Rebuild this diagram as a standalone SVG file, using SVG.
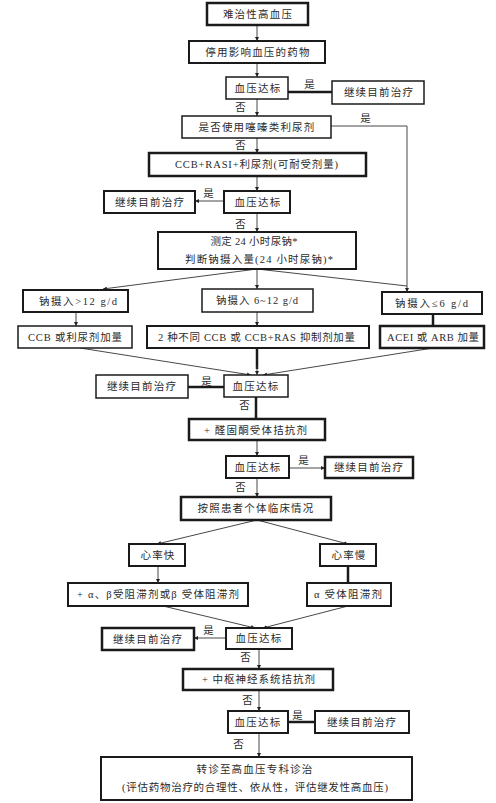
<svg xmlns="http://www.w3.org/2000/svg" width="496" height="803" viewBox="0 0 496 803">
<defs>
<marker id="ar" viewBox="0 0 6 6" refX="6" refY="3" markerWidth="4" markerHeight="4" orient="auto" markerUnits="userSpaceOnUse">
<path d="M0,0 L6,3 L0,6 z" fill="#222"/>
</marker>
<style>
.b{fill:#fff;stroke:#1a1a1a;stroke-width:1.5}
.t{stroke-width:2.5}
.m{stroke-width:2}
text{font-family:"Liberation Serif","Noto Sans CJK SC",serif;font-size:10.5px;fill:#2a2a2a;text-anchor:middle;letter-spacing:1.2px}
text.n{letter-spacing:0}
.c line,.c polyline{stroke:#333;stroke-width:0.9;fill:none}
.c .k{stroke:#1a1a1a;stroke-width:2.5}
.c .a{marker-end:url(#ar)}
</style>
</defs>
<rect width="496" height="803" fill="#fff"/>
<g class="c" id="connectors">
<line class="a" x1="257" y1="25" x2="257" y2="41"/>
<line class="a" x1="257" y1="63" x2="257" y2="77"/>
<line class="k" x1="288" y1="92" x2="332" y2="92"/>
<line class="a" x1="257" y1="99" x2="257" y2="116"/>
<polyline class="a" points="331,126 407,126 407,292"/>
<line class="a" x1="257" y1="138" x2="257" y2="153"/>
<line class="a" x1="257" y1="176" x2="257" y2="191"/>
<line class="a" x1="224" y1="201" x2="195" y2="201"/>
<line class="a" x1="257" y1="213" x2="257" y2="232"/>
<line class="a" x1="257" y1="269" x2="103" y2="289"/>
<line class="a" x1="257" y1="269" x2="257" y2="289"/>
<line x1="257" y1="269" x2="407" y2="286"/>
<line class="a" x1="76" y1="312" x2="76" y2="326"/>
<line class="a" x1="257" y1="312" x2="257" y2="326"/>
<line class="k" x1="433" y1="314" x2="433" y2="326"/>
<line class="a" x1="80" y1="348" x2="251" y2="375"/>
<line class="k" x1="257" y1="348" x2="257" y2="369"/>
<line class="a" x1="257" y1="366" x2="257" y2="375"/>
<line class="a" x1="433" y1="348" x2="263" y2="375"/>
<line class="k" x1="224" y1="387" x2="188" y2="387"/>
<line class="k" x1="256" y1="397" x2="256" y2="419"/>
<line class="a" x1="257" y1="440" x2="257" y2="456"/>
<line class="a" x1="289" y1="468" x2="325" y2="468"/>
<line class="a" x1="257" y1="478" x2="257" y2="497"/>
<line class="a" x1="257" y1="520" x2="157" y2="544"/>
<line class="a" x1="257" y1="520" x2="348" y2="544"/>
<line class="a" x1="158" y1="566" x2="158" y2="583"/>
<line class="k" x1="348" y1="566" x2="348" y2="583"/>
<line class="a" x1="163" y1="606" x2="255" y2="628"/>
<line class="a" x1="348" y1="606" x2="263" y2="628"/>
<line class="a" x1="226" y1="638" x2="194" y2="638"/>
<line class="a" x1="259" y1="649" x2="259" y2="669"/>
<line class="a" x1="259" y1="690" x2="259" y2="711"/>
<line class="k" x1="288" y1="722" x2="315" y2="722"/>
<line class="a" x1="259" y1="733" x2="259" y2="757"/>
</g>
<g id="labels">
<text x="310" y="88">是</text>
<text x="241" y="111">否</text>
<text x="366" y="122">是</text>
<text x="241" y="149">否</text>
<text x="209" y="197">是</text>
<text x="241" y="228">否</text>
<text x="207" y="385">是</text>
<text x="245" y="409">否</text>
<text x="304" y="464">是</text>
<text x="241" y="491">否</text>
<text x="209" y="634">是</text>
<text x="246" y="661">否</text>
<text x="248" y="704">否</text>
<text x="298" y="719">是</text>
<text x="239" y="748">否</text>
</g>
<g id="n1"><rect class="b t" x="207" y="3" width="101" height="22"/><text x="258" y="18">难治性高血压</text></g>
<g id="n2"><rect class="b m" x="189" y="41" width="136" height="22"/><text x="258" y="56">停用影响血压的药物</text></g>
<g id="n3"><rect class="b" x="226" y="77" width="62" height="22"/><text x="258" y="92">血压达标</text></g>
<g id="n4"><rect class="b" x="332" y="81" width="92" height="23"/><text x="379" y="96">继续目前治疗</text></g>
<g id="n5"><rect class="b" x="182" y="116" width="149" height="22"/><text x="257" y="131">是否使用噻嗪类利尿剂</text></g>
<g id="n6"><rect class="b t" x="149" y="153" width="217" height="23"/><text class="n" x="256.5" y="168" textLength="163" lengthAdjust="spacing">CCB+RASI+利尿剂(可耐受剂量)</text></g>
<g id="n7"><rect class="b m" x="224" y="191" width="66" height="22"/><text x="258" y="206">血压达标</text></g>
<g id="n8"><rect class="b m" x="104" y="191" width="91" height="22"/><text x="150" y="206">继续目前治疗</text></g>
<g id="n9"><rect class="b m" x="158" y="232" width="198" height="37"/><text class="n" x="254" y="245" textLength="87" lengthAdjust="spacing">测定 24 小时尿钠*</text><text class="n" x="259" y="263" textLength="148" lengthAdjust="spacing">判断钠摄入量(24 小时尿钠)*</text></g>
<g id="n10"><rect class="b m" x="23" y="290" width="105" height="22"/><text class="n" x="78" y="305" textLength="78" lengthAdjust="spacing">钠摄入&gt;12 g/d</text></g>
<g id="n11"><rect class="b" x="202" y="289" width="111" height="23"/><text class="n" x="257" y="304" textLength="82" lengthAdjust="spacing">钠摄入 6~12 g/d</text></g>
<g id="n12"><rect class="b m" x="382" y="292" width="100" height="22"/><text class="n" x="431.5" y="307" textLength="73" lengthAdjust="spacing">钠摄入≤6 g/d</text></g>
<g id="n13"><rect class="b" x="18" y="326" width="114" height="22"/><text class="n" x="75" y="341" textLength="94" lengthAdjust="spacing">CCB 或利尿剂加量</text></g>
<g id="n14"><rect class="b m" x="147" y="326" width="222" height="22"/><text class="n" x="256.5" y="341" textLength="197" lengthAdjust="spacing">2 种不同 CCB 或 CCB+RAS 抑制剂加量</text></g>
<g id="n15"><rect class="b t" x="380" y="326" width="104" height="22"/><text class="n" x="433" y="341" textLength="92" lengthAdjust="spacing">ACEI 或 ARB 加量</text></g>
<g id="n16"><rect class="b" x="224" y="375" width="64" height="22"/><text x="256" y="390">血压达标</text></g>
<g id="n17"><rect class="b" x="96" y="375" width="92" height="23"/><text x="142" y="390">继续目前治疗</text></g>
<g id="n18"><rect class="b t" x="189" y="419" width="136" height="21"/><text class="n" x="255.5" y="434" textLength="103" lengthAdjust="spacing">+ 醛固酮受体拮抗剂</text></g>
<g id="n19"><rect class="b m" x="226" y="456" width="63" height="22"/><text x="258" y="471">血压达标</text></g>
<g id="n20"><rect class="b t" x="325" y="457" width="88" height="21"/><text x="369" y="471">继续目前治疗</text></g>
<g id="n21"><rect class="b t" x="181" y="497" width="150" height="23"/><text x="256" y="512">按照患者个体临床情况</text></g>
<g id="n22"><rect class="b m" x="129" y="544" width="56" height="22"/><text x="158" y="559">心率快</text></g>
<g id="n23"><rect class="b m" x="320" y="544" width="56" height="22"/><text x="349" y="559">心率慢</text></g>
<g id="n24"><rect class="b m" x="68" y="583" width="180" height="23"/><text class="n" x="158" y="598" textLength="162" lengthAdjust="spacing">+ α、β受阻滞剂或β 受体阻滞剂</text></g>
<g id="n25"><rect class="b m" x="307" y="583" width="84" height="23"/><text class="n" x="348" y="598" textLength="68" lengthAdjust="spacing">α 受体阻滞剂</text></g>
<g id="n26"><rect class="b m" x="226" y="628" width="66" height="21"/><text x="259" y="642">血压达标</text></g>
<g id="n27"><rect class="b t" x="102" y="628" width="92" height="22"/><text x="148" y="643">继续目前治疗</text></g>
<g id="n28"><rect class="b t" x="183" y="669" width="150" height="21"/><text class="n" x="258.5" y="683" textLength="113" lengthAdjust="spacing">+ 中枢神经系统拮抗剂</text></g>
<g id="n29"><rect class="b m" x="228" y="711" width="60" height="22"/><text x="258" y="726">血压达标</text></g>
<g id="n30"><rect class="b m" x="315" y="711" width="94" height="22"/><text x="362" y="726">继续目前治疗</text></g>
<g id="n31"><rect class="b m" x="101" y="757" width="311" height="43"/><text x="255" y="773">转诊至高血压专科诊治</text><text class="n" x="255" y="791" textLength="266" lengthAdjust="spacing">(评估药物治疗的合理性、依从性，评估继发性高血压)</text></g>
</svg>
